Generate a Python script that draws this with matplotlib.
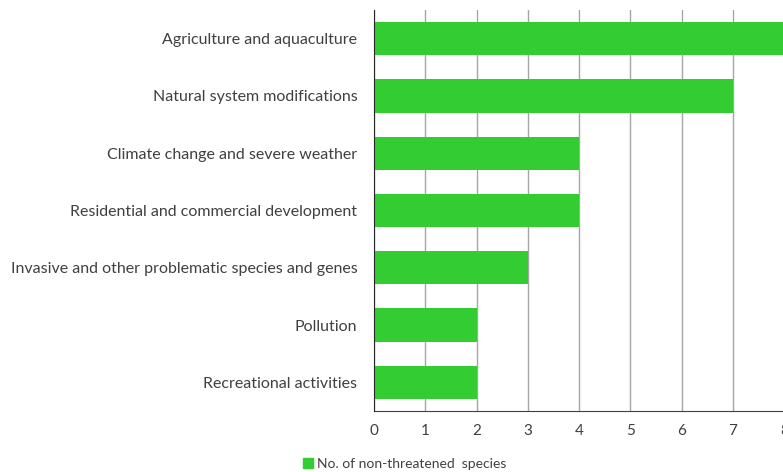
import matplotlib.pyplot as plt
from matplotlib.patches import Patch

# Threat categories and species counts
threats = [
    "Agriculture and aquaculture",
    "Natural system modifications",
    "Climate change and severe weather",
    "Residential and commercial development",
    "Invasive and other problematic species and genes",
    "Pollution",
    "Recreational activities",
]
counts = [8, 7, 4, 4, 3, 2, 2]
ticks = [0, 1, 2, 3, 4, 5, 6, 7, 8]

plt.rcParams['font.family'] = ['Lato', 'DejaVu Sans']
green = '#33cc33'
text_col = '#404040'

fig = plt.figure(figsize=(7.83, 4.72), dpi=100)
ax = fig.add_axes([0.4777, 0.1292, 0.524, 0.8496])

ypos = list(range(len(threats)))[::-1]
ax.barh(ypos, counts, height=0.58, color=green, zorder=3)

ax.set_xlim(0, 8)
ax.set_ylim(-0.5, len(threats) - 0.5)
ax.set_xticks(ticks)
ax.set_xticklabels([str(t) for t in ticks], fontsize=11, color=text_col)
ax.set_yticks(ypos)
ax.set_yticklabels(threats, fontsize=11.5, color=text_col)
ax.tick_params(axis='both', length=0)
ax.tick_params(axis='y', pad=12)
ax.tick_params(axis='x', pad=9)

ax.grid(axis='x', color='#a6a6a6', linewidth=1, zorder=0)
ax.grid(axis='y', visible=False)
for side in ['top', 'right']:
    ax.spines[side].set_visible(False)
ax.spines['left'].set_color('#262626')
ax.spines['bottom'].set_color('#404040')
ax.spines['left'].set_zorder(4)

fig.legend(handles=[Patch(color=green, label='No. of non-threatened  species')],
           loc='center', bbox_to_anchor=(0.517, 0.017), frameon=False,
           fontsize=10, handlelength=0.7, handleheight=0.7, handletextpad=0.3,
           labelcolor=text_col)

fig.savefig('out.png', dpi=100)
